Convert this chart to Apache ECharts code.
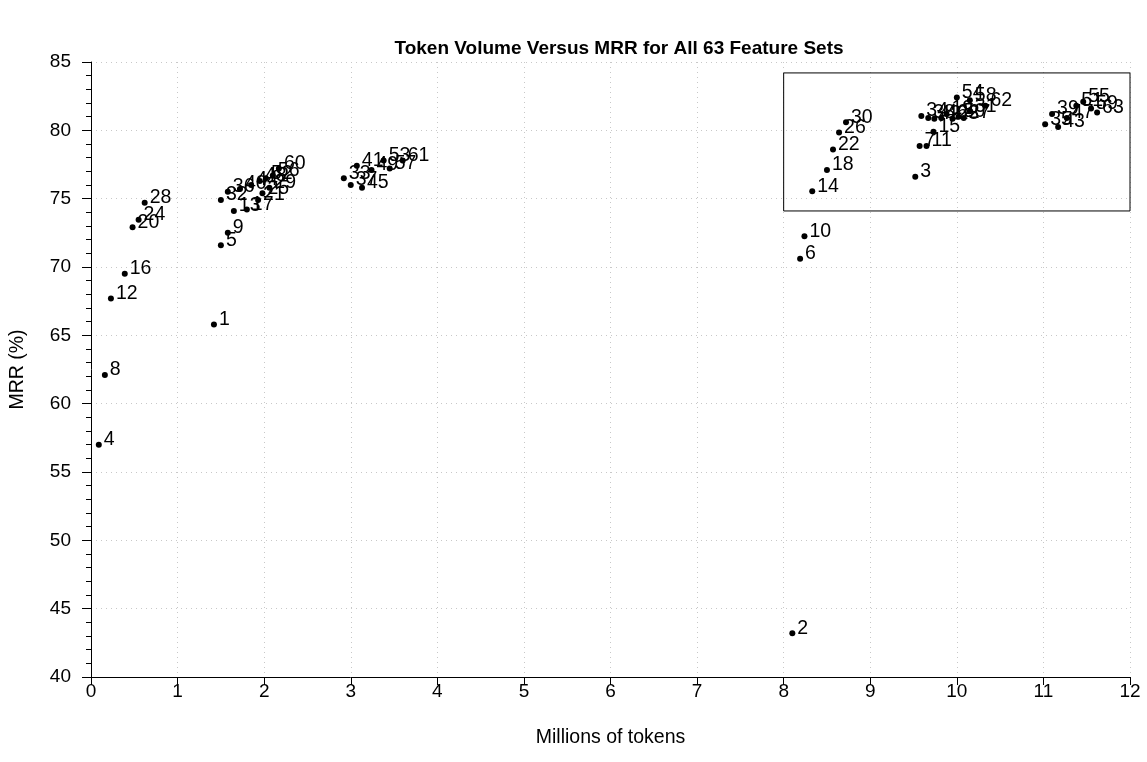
<!DOCTYPE html>
<html>
<head>
<meta charset="utf-8">
<script src="https://cdn.jsdelivr.net/npm/echarts@6/dist/echarts.min.js"></script>
<style>
html,body{margin:0;padding:0;background:#fff;}
#chart{width:1147px;height:762px;}
</style>
</head>
<body>
<div id="chart"></div>
<script>
// Feature set ids
var ids = [1,2,3,4,5,6,7,8,9,10,11,12,13,14,15,16,17,18,19,20,21,22,23,24,25,26,27,28,29,30,31,32,33,34,35,36,37,38,39,40,41,42,43,44,45,46,47,48,49,50,51,52,53,54,55,56,57,58,59,60,61,62,63];
// Millions of tokens
var tokens = [1.42,8.10,9.52,0.09,1.50,8.19,9.57,0.16,1.58,8.24,9.65,0.23,1.65,8.33,9.73,0.39,1.80,8.50,9.88,0.48,1.93,8.57,9.95,0.55,1.98,8.64,10.08,0.62,2.06,8.72,10.15,1.50,2.92,9.59,11.02,1.58,3.00,9.67,11.10,1.72,3.07,9.74,11.17,1.85,3.13,9.82,11.27,1.95,3.24,10.02,11.38,2.02,3.38,10.00,11.46,2.10,3.45,10.15,11.55,2.17,3.60,10.33,11.62];
// MRR (%)
var mrr = [65.8,43.2,76.6,57.0,71.6,70.6,78.85,62.1,72.5,72.25,78.85,67.7,74.1,75.55,79.9,69.5,74.2,77.1,81.2,72.9,74.9,78.6,80.85,73.45,75.4,79.85,80.9,74.7,75.8,80.6,81.4,74.9,76.5,81.05,80.45,75.5,76.0,80.9,81.2,75.7,77.4,80.85,80.25,76.0,75.8,80.9,80.9,76.3,77.1,81.0,81.8,76.5,77.8,82.4,82.1,76.7,77.2,82.2,81.6,77.2,77.8,81.8,81.3];
// Highlight box [xMin, yMax, xMax, yMin]
var boxRange = [8.0, 84.2, 12.0, 74.1];
var xTicks = {min:0, max:12, step:1};
var yTicks = {min:40, max:85, step:5};

var FONT = 'Liberation Sans, Arial, sans-serif';
var pts = ids.map(function(id,i){ return [tokens[i], mrr[i], id]; });

var chart = echarts.init(document.getElementById('chart'), null, {renderer:'canvas'});
chart.setOption({
  animation:false,
  backgroundColor:'#fff',
  title:{
    text:'Token Volume Versus MRR for All 63 Feature Sets',
    left:614, textAlign:'center', top:34,
    textStyle:{fontFamily:FONT, fontWeight:'bold', fontSize:19, color:'#000'}
  },
  grid:{left:91, right:17, top:62, bottom:85, containLabel:false},
  xAxis:{
    type:'value', min:xTicks.min, max:xTicks.max, interval:xTicks.step,
    name:'Millions of tokens', nameLocation:'middle', nameGap:51,
    nameTextStyle:{fontFamily:FONT, fontSize:19.5, color:'#000'},
    axisLine:{show:true, onZero:false, lineStyle:{color:'#000', width:1}},
    axisTick:{show:true, length:8, lineStyle:{color:'#000'}},
    axisLabel:{fontFamily:FONT, fontSize:19, color:'#000', margin:5},
    splitLine:{show:true, lineStyle:{color:'#c8c8c8', type:[1,4], width:1}}
  },
  yAxis:{
    type:'value', min:yTicks.min, max:yTicks.max, interval:yTicks.step,
    name:'MRR (%)', nameLocation:'middle', nameGap:63, nameRotate:90,
    nameTextStyle:{fontFamily:FONT, fontSize:19.5, color:'#000'},
    axisLine:{show:true, onZero:false, lineStyle:{color:'#000', width:1}},
    axisTick:{show:true, length:9, lineStyle:{color:'#000'}},
    minorTick:{show:true, splitNumber:5, length:5, lineStyle:{color:'#000'}},
    axisLabel:{fontFamily:FONT, fontSize:19, color:'#000', margin:20},
    splitLine:{show:true, lineStyle:{color:'#c8c8c8', type:[1,4], width:1}}
  },
  series:[{
    type:'scatter',
    data:pts,
    symbol:'circle',
    symbolSize:6,
    itemStyle:{color:'#000', opacity:1},
    label:{
      show:true, position:[8,-12], align:'left', verticalAlign:'top',
      formatter:function(p){ return String(p.value[2]); },
      fontFamily:FONT, fontSize:19.5, color:'#000'
    },
    markArea:{
      silent:true,
      itemStyle:{color:'rgba(0,0,0,0)', borderColor:'#000', borderWidth:1},
      data:[[{coord:[boxRange[0], boxRange[1]]},{coord:[boxRange[2], boxRange[3]]}]]
    },
    z:3
  }]
});
</script>
</body>
</html>
